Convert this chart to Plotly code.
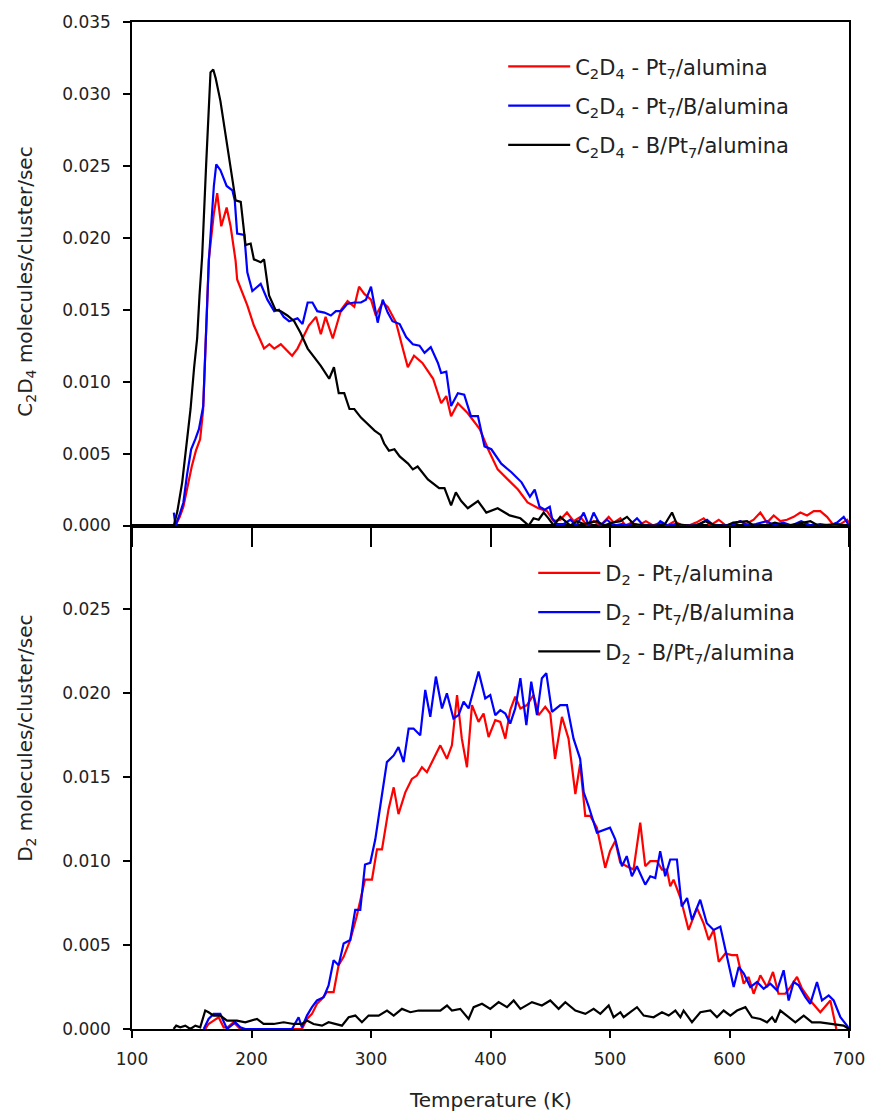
import plotly.graph_objects as go

# ---------------- Top panel: C2D4 desorption ----------------
c2d4_pt7_T = [136.4, 140, 143, 146.5, 150, 153.5, 157, 159.5, 161.5, 164.3, 168.5, 171.3, 174.7, 179.2, 182.5,
              186.7, 188, 192, 196.5, 202, 206, 210.5, 215, 219, 224.5, 230, 234, 238.5, 242.7, 248, 254, 258,
              262, 268, 275, 280.4, 286, 290, 294.4, 300, 304, 309.8, 314, 321, 326, 330.8, 336, 343, 352,
              358.7, 363, 367, 372.7, 381, 391, 398, 406, 414.7, 423, 431, 440, 447.3, 452.9, 458.4, 464,
              469.6, 475.2, 480.8, 486.3, 492, 498.9, 503.1, 508.7, 512.8, 518, 524, 530, 536, 542, 548, 554,
              560, 566, 572, 578.4, 584, 591, 597, 603, 609.1, 614, 620.2, 625.8, 631.4, 637, 642.5, 648.1,
              653.7, 659.3, 664.9, 670.5, 676, 681.6, 687.2, 692.8, 698.4, 700]
c2d4_pt7_y = [0, 0.0006, 0.0013, 0.0027, 0.0041, 0.0052, 0.006, 0.0080, 0.0123, 0.0185, 0.0217, 0.0231, 0.0208,
              0.0221, 0.0208, 0.0184, 0.0171, 0.0162, 0.0153, 0.0139, 0.0131, 0.0123, 0.0126, 0.0123, 0.0126,
              0.0121, 0.0118, 0.0123, 0.0130, 0.0139, 0.0145, 0.0133, 0.0145, 0.0130, 0.0150, 0.0156, 0.0152,
              0.0166, 0.0161, 0.0157, 0.0146, 0.0155, 0.0152, 0.0141, 0.0125, 0.0110, 0.0118, 0.0113, 0.0102,
              0.0085, 0.0090, 0.0076, 0.0085, 0.0078, 0.0067, 0.0053, 0.0039, 0.0032, 0.0025, 0.0016, 0.0012,
              0.0010, 0.0003, 0.0004, 0.0009, 0.0003, 0.0006, 0.0, 0.0003, 0.0, 0.0006, 0.0002, 0.0005, 0.0,
              0.0002, 0.0, 0.0003, 0.0, 0.0002, 0.0, 0.0003, 0.0, 0.0, 0.0002, 0.0005, 0.0, 0.0004, 0.0,
              0.0001, 0.0003, 0.0001, 0.0004, 0.0009, 0.0002, 0.0007, 0.0003, 0.0004, 0.0006, 0.0009, 0.0007,
              0.0010, 0.0010, 0.0006, 0.0, 0.0001, 0.0004, 0.0002]

c2d4_pt7b_T = [135, 136.4, 140, 143, 146, 149.5, 153, 156, 159.6, 161.5, 164.3, 168.5, 170.5, 174, 179.2, 184,
               186, 188, 194, 196.5, 200.7, 207.7, 213.3, 219, 223, 227, 231.5, 238.5, 242.7, 247, 251, 255,
               261, 266.4, 270.6, 275, 280, 286, 291.6, 295.8, 300, 305.6, 309.8, 314, 318, 324, 329.4, 335,
               340.6, 344.8, 350, 356, 358.7, 363, 367, 372.7, 378, 383.6, 389.5, 395, 400.7, 409, 417.5, 426,
               433, 437, 441, 445.5, 449.6, 451.5, 455.7, 461, 466.8, 472, 478, 482.2, 486.3, 492, 497.5, 503,
               510, 516, 522.6, 528, 534, 539.3, 542.1, 548, 555, 562, 570, 575, 581.2, 587, 595, 603, 609,
               615, 622, 631.4, 637, 645, 652, 660, 668, 676, 684, 690, 695.6, 700]
c2d4_pt7b_y = [0.0009, 0, 0.0008, 0.0016, 0.0035, 0.0053, 0.0060, 0.0067, 0.0083, 0.0130, 0.0184, 0.0236,
               0.0251, 0.0247, 0.0236, 0.0233, 0.0226, 0.0203, 0.0202, 0.0176, 0.0163, 0.0168, 0.0157, 0.0149,
               0.0150, 0.0145, 0.0142, 0.0144, 0.0140, 0.0155, 0.0155, 0.0149, 0.0148, 0.0146, 0.0149, 0.0149,
               0.0154, 0.0155, 0.0155, 0.0157, 0.0166, 0.0141, 0.0157, 0.0148, 0.0142, 0.0140, 0.0131, 0.0126,
               0.0125, 0.0120, 0.0124, 0.0113, 0.0106, 0.0107, 0.0083, 0.0092, 0.0091, 0.0076, 0.0076, 0.0055,
               0.0053, 0.0043, 0.0037, 0.0030, 0.0020, 0.0025, 0.0013, 0.0011, 0.0013, 0.0005, 0.0001, 0.0001,
               0.0004, 0.0, 0.0009, 0.0, 0.0009, 0.0, 0.0004, 0.0, 0.0001, 0.0, 0.0005, 0.0, 0.0, 0.0, 0.0003,
               0.0, 0.0001, 0.0, 0.0, 0.0001, 0.0004, 0.0, 0.0, 0.0001, 0.0003, 0.0, 0.0001, 0.0003, 0.0,
               0.0002, 0.0, 0.0003, 0.0, 0.0001, 0.0, 0.0002, 0.0006, 0.0]

c2d4_bpt7_T = [135, 138, 142, 145.5, 149, 152, 154.5, 156.5, 158.7, 162, 165.7, 168, 170, 174, 179.7, 183,
               186.7, 191, 195, 199.3, 202, 207.7, 210.5, 214.7, 220, 224.5, 230, 235.7, 241, 247, 258, 265,
               269, 273, 277.6, 282, 286, 291.6, 303, 308, 311, 315, 319.6, 324, 331, 335, 339, 347.6, 357,
               361.5, 367, 371, 375.5, 381, 389.5, 396.5, 406, 416, 425, 432, 436, 440.3, 444.5, 448.5, 452.9,
               458.4, 462.5, 466.8, 472.4, 478, 483.5, 489, 495, 502, 508.7, 514.2, 519.7, 530, 540, 546,
               551.9, 556, 565, 572, 580, 588, 598, 603, 614.7, 620, 630, 638, 648, 656, 667.7, 674, 690, 696,
               700]
c2d4_bpt7_y = [0, 0.0010, 0.0030, 0.0055, 0.0081, 0.0110, 0.0130, 0.0160, 0.0187, 0.0250, 0.0315, 0.0317,
               0.0311, 0.0295, 0.0263, 0.0245, 0.0226, 0.0225, 0.0195, 0.0196, 0.0185, 0.0183, 0.0185, 0.0160,
               0.0150, 0.0149, 0.0146, 0.0142, 0.0134, 0.0123, 0.0111, 0.0102, 0.0110, 0.0092, 0.0092, 0.0081,
               0.0081, 0.0075, 0.0066, 0.0063, 0.0057, 0.0052, 0.0053, 0.0048, 0.0043, 0.0039, 0.0041, 0.0032,
               0.0026, 0.0026, 0.0014, 0.0023, 0.0017, 0.0012, 0.0017, 0.0009, 0.0012, 0.0007, 0.0005, 0.0,
               0.0005, 0.0004, 0.0009, 0.0005, 0.0, 0.0006, 0.0003, 0.0, 0.0003, 0.0001, 0.0002, 0.0003, 0.0,
               0.0002, 0.0003, 0.0006, 0.0001, 0.0, 0.0, 0.0001, 0.0009, 0.0001, 0.0, 0.0, 0.0003, 0.0, 0.0,
               0.0002, 0.0003, 0.0, 0.0, 0.0002, 0.0, 0.0001, 0.0003, 0.0, 0.0001, 0.0, 0.0]

# ---------------- Bottom panel: D2 desorption ----------------
d2_pt7_T = [161.3, 164, 168.3, 172.5, 176.7, 180, 185, 190.6, 200, 210, 220, 230, 236.6, 242.2, 246.4, 250.6,
            254.8, 259, 263.1, 268.7, 272.9, 277.1, 282.6, 288, 295, 300.8, 305, 309.2, 314.7, 319, 323, 328.7,
            334.2, 338.4, 342.6, 346.8, 352.4, 358, 363.5, 367.7, 372, 376, 380.3, 384.5, 390, 394.2, 398.4,
            404, 408.2, 412.4, 416.5, 420.7, 425, 430.5, 436, 440.3, 445.8, 450, 454, 459.8, 465.3, 471, 475,
            479.3, 483.5, 489, 496, 500, 504.4, 508.6, 514, 519.7, 525.3, 529.5, 533.7, 539.3, 543.5, 547.6,
            550.4, 553.2, 559, 565.8, 572.8, 578.3, 582.6, 586.8, 591, 596.5, 602, 606.3, 611.9, 616, 620.2,
            625.8, 631.4, 636.4, 641, 646.7, 650.9, 656.5, 660.7, 667.6, 676, 684.4, 689.4]
d2_pt7_y = [0, 0.0003, 0.0005, 0.0007, 0.0001, 0.0001, 0.0004, 0, 0, 0, 0, 0, 0, 0, 0.0006, 0.0009, 0.0015,
            0.0018, 0.0022, 0.0022, 0.0038, 0.0043, 0.0053, 0.0067, 0.0089, 0.0089, 0.0107, 0.0107, 0.0131,
            0.0144, 0.0128, 0.0141, 0.0149, 0.0151, 0.0156, 0.0153, 0.0161, 0.0169, 0.0161, 0.0169, 0.0199,
            0.0173, 0.0156, 0.0193, 0.0183, 0.0188, 0.0174, 0.0184, 0.0183, 0.0173, 0.0190, 0.0198, 0.0191,
            0.0193, 0.0199, 0.0187, 0.0192, 0.0188, 0.0161, 0.0186, 0.0173, 0.0140, 0.0158, 0.0127, 0.0127,
            0.0120, 0.0096, 0.0106, 0.0112, 0.0099, 0.0097, 0.0095, 0.0123, 0.0097, 0.0100, 0.0100, 0.0095,
            0.0095, 0.0085, 0.0089, 0.0078, 0.0059, 0.0072, 0.0063, 0.0053, 0.0059, 0.0040, 0.0045, 0.0044,
            0.0044, 0.0027, 0.0031, 0.0021, 0.0032, 0.0025, 0.0034, 0.0021, 0.0021, 0.0025, 0.0031, 0.0024,
            0.0017, 0.0010, 0.0017, 0.0]

d2_pt7b_T = [160, 164.1, 168.3, 173.9, 179.5, 186.4, 190.6, 194.8, 205, 215, 225, 233.9, 239.4, 242.2, 246.4,
             250.6, 254.8, 260.4, 264.5, 268.7, 272.9, 277.1, 282.6, 286.8, 291, 295, 299.4, 303.6, 307.8,
             313.3, 319, 323, 327.3, 331.5, 335.6, 341.2, 345.4, 349.6, 354.3, 359.4, 363.5, 369, 373.3, 377.5,
             381.7, 385.9, 390, 395.6, 399.8, 404, 408.2, 412.4, 416.5, 420.7, 425, 430, 434.1, 438.9, 443,
             446.7, 451.4, 458.4, 464, 469.5, 475, 478, 482, 489, 493, 500, 504.4, 510, 514, 518.3, 522.5,
             529.5, 533.7, 537.9, 542, 546.2, 550.4, 556, 560, 564.5, 568.6, 575.5, 581, 586.7, 592.3, 598,
             603.5, 607.7, 612, 617.4, 623, 628.6, 634.2, 639.8, 645.3, 649.5, 653.7, 657.9, 663.5, 667.6,
             673.2, 677.4, 683, 687.2, 692.8, 698.3, 700]
d2_pt7b_y = [0, 0.0006, 0.0009, 0.0009, 0, 0.0004, 0.0001, 0, 0, 0, 0, 0, 0.0007, 0.0001, 0.0008, 0.0013,
             0.0017, 0.0019, 0.0026, 0.0041, 0.0038, 0.0051, 0.0053, 0.0071, 0.0071, 0.0098, 0.0099, 0.0113,
             0.0133, 0.0159, 0.0163, 0.0168, 0.0159, 0.0179, 0.0179, 0.0175, 0.0202, 0.0186, 0.0210, 0.0191,
             0.0200, 0.0185, 0.0187, 0.0195, 0.0191, 0.0203, 0.0213, 0.0197, 0.0199, 0.0187, 0.0190, 0.0188,
             0.0182, 0.0191, 0.0209, 0.0181, 0.0207, 0.0187, 0.0209, 0.0212, 0.0189, 0.0193, 0.0193, 0.0173,
             0.0161, 0.0141, 0.0133, 0.0117, 0.0118, 0.0120, 0.0113, 0.0097, 0.0103, 0.0091, 0.0097, 0.0086,
             0.0091, 0.0090, 0.0106, 0.0091, 0.0101, 0.0101, 0.0073, 0.0078, 0.0065, 0.0077, 0.0063, 0.0059,
             0.0061, 0.0043, 0.0025, 0.0037, 0.0033, 0.0025, 0.0028, 0.0024, 0.0027, 0.0023, 0.0035, 0.0017,
             0.0028, 0.0026, 0.0019, 0.0015, 0.0028, 0.0017, 0.0020, 0.0017, 0.0007, 0.0002, 0.0]

d2_bpt7_T = [134.8, 137, 140.4, 144.6, 148.8, 153, 157.1, 161.3, 164.1, 168.3, 173.9, 179.5, 187.8, 194.8,
             204.6, 210.1, 218.5, 226.9, 235.2, 242.2, 246.4, 251.9, 259, 264.5, 275.7, 281.3, 286.9, 292.4,
             298, 306.4, 313.4, 319, 325.9, 332.9, 339.8, 346.8, 358, 363.6, 367.7, 374.7, 381.7, 385.9, 392.9,
             399.8, 406.8, 413.8, 419.4, 425, 434.7, 443, 450, 457, 462.6, 471, 479.4, 486.3, 491.9, 498.9,
             503, 508.7, 511.4, 517, 522.6, 528.2, 536.5, 543.5, 549.1, 554.7, 558.9, 561.6, 568.6, 575.6, 584,
             589.5, 595.1, 600.7, 606.3, 613.3, 618.8, 625.8, 631.4, 635.6, 638.4, 642.5, 648.1, 655.1, 662.1,
             669, 676, 687.2, 695.5, 700]
d2_bpt7_y = [0, 0.0002, 0.0001, 0.0002, 0, 0.0002, 0.0001, 0.0011, 0.0010, 0.0008, 0.0008, 0.0005, 0.0005,
             0.0004, 0.0006, 0.0003, 0.0003, 0.0004, 0.0003, 0.0003, 0.0005, 0.0003, 0.0002, 0.0004, 0.0002,
             0.0007, 0.0008, 0.0004, 0.0008, 0.0008, 0.0011, 0.0008, 0.0012, 0.0010, 0.0011, 0.0011, 0.0011,
             0.0014, 0.0011, 0.0012, 0.0006, 0.0013, 0.0015, 0.0012, 0.0016, 0.0013, 0.0017, 0.0012, 0.0016,
             0.0014, 0.0017, 0.0012, 0.0016, 0.0011, 0.0009, 0.0012, 0.0009, 0.0014, 0.0007, 0.0010, 0.0007,
             0.0010, 0.0013, 0.0008, 0.0007, 0.0010, 0.0008, 0.0011, 0.0007, 0.0011, 0.0004, 0.0010, 0.0011,
             0.0007, 0.0011, 0.0008, 0.0011, 0.0013, 0.0007, 0.0006, 0.0004, 0.0007, 0.0004, 0.0011, 0.0008,
             0.0004, 0.0008, 0.0004, 0.0004, 0.0003, 0.0002, 0]

x_ticks = [100, 200, 300, 400, 500, 600, 700]
y_top_ticks = [0.000, 0.005, 0.010, 0.015, 0.020, 0.025, 0.030, 0.035]
y_bot_ticks = [0.000, 0.005, 0.010, 0.015, 0.020, 0.025]

RED, BLUE, BLACK = "#ff0000", "#0000ff", "#000000"
FONT = "DejaVu Sans"
TXT = "#222222"

fig = go.Figure()

top_series = [
    (c2d4_pt7_T, c2d4_pt7_y, "C<sub>2</sub>D<sub>4</sub> - Pt<sub>7</sub>/alumina", RED),
    (c2d4_pt7b_T, c2d4_pt7b_y, "C<sub>2</sub>D<sub>4</sub> - Pt<sub>7</sub>/B/alumina", BLUE),
    (c2d4_bpt7_T, c2d4_bpt7_y, "C<sub>2</sub>D<sub>4</sub> - B/Pt<sub>7</sub>/alumina", BLACK),
]
bot_series = [
    (d2_pt7_T, d2_pt7_y, "D<sub>2</sub> - Pt<sub>7</sub>/alumina", RED),
    (d2_pt7b_T, d2_pt7b_y, "D<sub>2</sub> - Pt<sub>7</sub>/B/alumina", BLUE),
    (d2_bpt7_T, d2_bpt7_y, "D<sub>2</sub> - B/Pt<sub>7</sub>/alumina", BLACK),
]

for i, (xs, ys, name, col) in enumerate(top_series):
    fig.add_trace(go.Scatter(x=xs, y=ys, mode="lines", name=name, line=dict(color=col, width=2.2),
                             xaxis="x2", yaxis="y2", legend="legend", legendgroup="t%d" % i))
for i, (xs, ys, name, col) in enumerate(bot_series):
    fig.add_trace(go.Scatter(x=xs, y=ys, mode="lines", name=name, line=dict(color=col, width=2.2),
                             xaxis="x", yaxis="y", legend="legend2", legendgroup="b%d" % i))

axis_common = dict(showline=True, linecolor="#000000", linewidth=1.5, mirror=True, showgrid=False,
                   zeroline=False, ticks="outside", tickcolor="#000000", tickwidth=1.5, automargin=False,
                   tickfont=dict(family=FONT, size=17, color=TXT))

fig.update_layout(
    width=870, height=1111,
    margin=dict(l=132, r=21, t=22, b=82, autoexpand=False),
    paper_bgcolor="white", plot_bgcolor="white",
    font=dict(family=FONT, color=TXT),
    xaxis=dict(domain=[0, 1], range=[100, 700], anchor="y", tickvals=x_ticks, ticklen=7,
               ticklabelstandoff=7, **axis_common),
    yaxis=dict(domain=[0, 0.5], range=[0, 0.030], anchor="x", tickvals=y_bot_ticks, tickformat=".3f",
               ticklen=7, ticklabelstandoff=9, **axis_common),
    xaxis2=dict(domain=[0, 1], range=[100, 700], anchor="y2", tickvals=x_ticks, ticklen=20,
                showticklabels=False, matches="x", **axis_common),
    yaxis2=dict(domain=[0.5, 1], range=[0, 0.035], anchor="x2", tickvals=y_top_ticks, tickformat=".3f",
                ticklen=7, ticklabelstandoff=9, **axis_common),
    legend=dict(x=0.5177, y=0.976, xanchor="left", yanchor="top", bgcolor="rgba(0,0,0,0)",
                font=dict(family=FONT, size=21, color=TXT), itemwidth=62, tracegroupgap=9),
    legend2=dict(x=0.5596, y=0.473, xanchor="left", yanchor="top", bgcolor="rgba(0,0,0,0)",
                 font=dict(family=FONT, size=21, color=TXT), itemwidth=62, tracegroupgap=9),
    showlegend=True,
    annotations=[
        dict(text="C<sub>2</sub>D<sub>4</sub> molecules/cluster/sec", xref="paper", yref="paper",
             x=-0.148, y=0.742, xanchor="center", yanchor="middle", textangle=-90, showarrow=False,
             font=dict(family=FONT, size=20, color=TXT)),
        dict(text="D<sub>2</sub> molecules/cluster/sec", xref="paper", yref="paper",
             x=-0.148, y=0.289, xanchor="center", yanchor="middle", textangle=-90, showarrow=False,
             font=dict(family=FONT, size=20, color=TXT)),
        dict(text="Temperature (K)", xref="paper", yref="paper", x=0.5, y=-0.0705,
             xanchor="center", yanchor="middle", showarrow=False,
             font=dict(family=FONT, size=20, color=TXT)),
    ],
)

fig.write_html("out.html")
